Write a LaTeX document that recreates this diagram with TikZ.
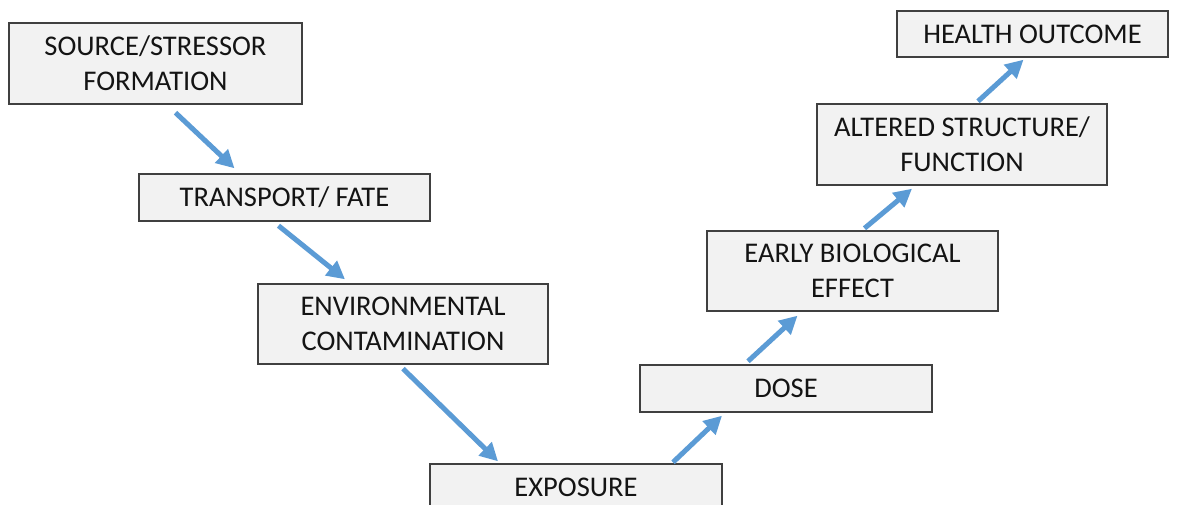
\documentclass[tikz,border=0pt]{standalone}
\usepackage{fontspec}
\setmainfont{Carlito}
\usepackage{tikz}
\usetikzlibrary{arrows.meta,positioning}
\definecolor{flowblue}{RGB}{91,155,213}
\definecolor{boxfill}{RGB}{242,242,242}
\definecolor{boxline}{RGB}{64,64,64}
\definecolor{inktext}{RGB}{20,20,20}
\tikzstyle{stage} = [draw=boxline, line width=1.4pt, fill=boxfill, text=inktext, align=center, inner sep=0pt, font=\fontsize{28.5}{35}\selectfont]
\tikzstyle{flowarrow} = [line width=5pt, -{Triangle[length=18pt,width=18pt]}, color=flowblue]

\begin{document}
\begin{tikzpicture}[x=1pt,y=-1pt]
\clip (0,0) rectangle (1178,505);
\fill[white] (0,0) rectangle (1178,505);

% Stages, going down
\node[stage, minimum width=293pt, minimum height=81pt] (source) at (155.5,63.5) {SOURCE/STRESSOR\\FORMATION};
\node[stage, minimum width=291pt, minimum height=47pt] (transport) at (284.5,197.5) {TRANSPORT/ FATE};
\node[stage, minimum width=290pt, minimum height=80pt] (contam) at (403,324) {ENVIRONMENTAL\\CONTAMINATION};
\node[stage, minimum width=292pt, minimum height=47pt] (exposure) at (576,487.5) {EXPOSURE};

% Stages, going up
\node[stage, minimum width=292pt, minimum height=47pt] (dose) at (786,388.5) {DOSE};
\node[stage, minimum width=291pt, minimum height=80pt] (effect) at (852.5,271) {EARLY BIOLOGICAL\\EFFECT};
\node[stage, minimum width=290pt, minimum height=81pt] (altered) at (962,144.5) {ALTERED STRUCTURE/\\FUNCTION};
\node[stage, minimum width=271pt, minimum height=46pt] (outcome) at (1032.5,34) {HEALTH OUTCOME};

% Arrows
\draw[flowarrow] ([shift={(20,8)}]source.south) -- ([shift={(-50,-5)}]transport.north);
\draw[flowarrow] ([shift={(-6,4)}]transport.south) -- ([shift={(-58,-4)}]contam.north);
\draw[flowarrow] ([shift={(0,4)}]contam.south) -- ([shift={(-78,-2)}]exposure.north);
\draw[flowarrow] ([shift={(97,-1)}]exposure.north) -- ([shift={(-64,3)}]dose.south);
\draw[flowarrow] ([shift={(-38,-3)}]dose.north) -- ([shift={(-55,4)}]effect.south);
\draw[flowarrow] ([shift={(12,-2)}]effect.north) -- ([shift={(-50,3)}]altered.south);
\draw[flowarrow] ([shift={(16,-2)}]altered.north) -- ([shift={(-9,2)}]outcome.south);
\end{tikzpicture}
\end{document}
